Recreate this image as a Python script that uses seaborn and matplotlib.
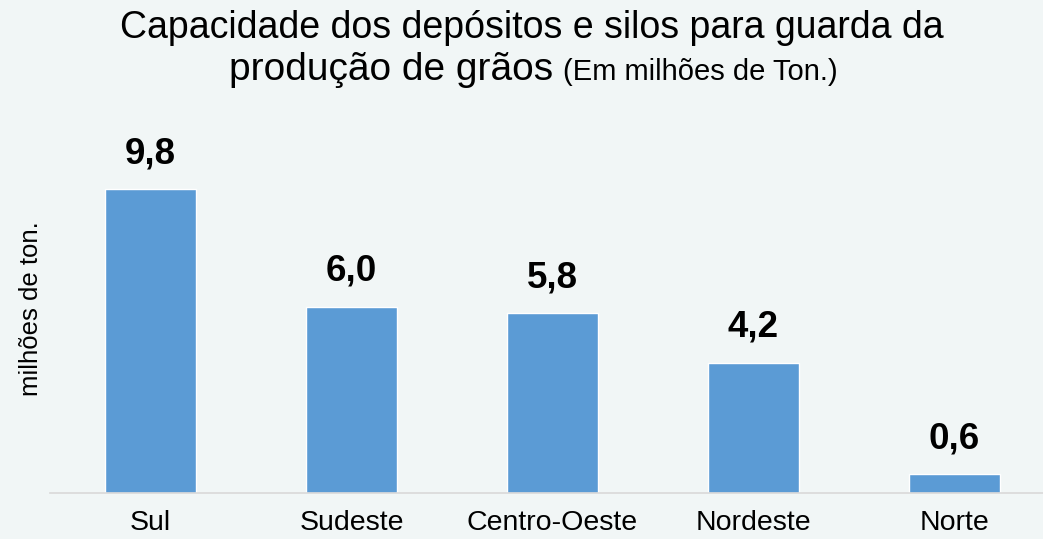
import pandas as pd
import seaborn as sns
import matplotlib.pyplot as plt

regioes = ["Sul", "Sudeste", "Centro-Oeste", "Nordeste", "Norte"]
capacidade = [9.8, 6.0, 5.8, 4.2, 0.6]
rotulos = ["9,8", "6,0", "5,8", "4,2", "0,6"]


def grafico_silos():
    df = pd.DataFrame({"Regiao": regioes, "Capacidade": capacidade})

    sns.set_theme(style="white")
    plt.rcParams["font.family"] = ["Liberation Sans", "DejaVu Sans"]
    plt.rcParams["text.color"] = "black"

    fundo = "#f1f6f6"
    fig = plt.figure(figsize=(10.43, 5.39), dpi=100, facecolor=fundo)
    W, H = 1043, 539
    # eixo: base em y=493px, topo em 130px
    ax = fig.add_axes([50 / W, (H - 493) / H, 1000 / W, 363 / H])
    ax.set_facecolor(fundo)

    sns.barplot(data=df, x="Regiao", y="Capacidade", color="#5b9bd5",
                width=0.45, saturation=1, ax=ax)

    ax.set_xlim(-0.5, 4.475)
    ax.set_ylim(0, 363 / 31)
    for i, (v, r) in enumerate(zip(capacidade, rotulos)):
        ax.annotate(r, (i, v), xytext=(0, 13), textcoords="offset points",
                    ha="center", va="bottom", fontsize=26.5, fontweight="bold",
                    color="black")

    for s in ["top", "right", "left"]:
        ax.spines[s].set_visible(False)
    ax.spines["bottom"].set_color("#d9d9d9")
    ax.spines["bottom"].set_linewidth(1.2)
    ax.set_yticks([])
    ax.set_xlabel("")
    ax.set_ylabel("")
    ax.tick_params(axis="x", length=0, pad=12, labelsize=20.5, labelcolor="black")

    fig.text(31 / W, 1 - 309 / H, "milhões de ton.", rotation=90,
             ha="center", va="center", fontsize=18.5)

    fig.text(532 / W, 1 - 28 / H, "Capacidade dos depósitos e silos para guarda da",
             ha="center", va="center", fontsize=27)
    fig.text(553 / W, 1 - 80 / H, "produção de grãos", ha="right",
             va="baseline", fontsize=28)
    fig.text(563 / W, 1 - 80 / H, "(Em milhões de Ton.)", ha="left",
             va="baseline", fontsize=21)

    plt.savefig("out.png", dpi=100, facecolor=fundo)


if __name__ == "__main__":
    grafico_silos()
